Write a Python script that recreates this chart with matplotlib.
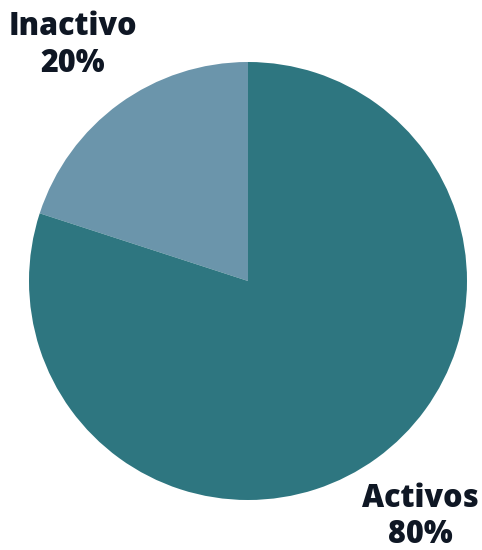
import matplotlib.pyplot as plt

labels = ['Inactivo', 'Activos']
values = [20, 80]
colors = ['#6b95ab', '#2e7680']

fig = plt.figure(figsize=(4.82, 5.5), dpi=100)
ax = fig.add_axes([29/482, 50/550, 438/482, 438/550])

ax.pie(values, colors=colors, startangle=90, counterclock=True, radius=1,
       wedgeprops=dict(linewidth=0))
ax.set_xlim(-1, 1)
ax.set_ylim(-1, 1)
ax.set_aspect('equal')
ax.axis('off')

# label positions in data units (outside the pie)
pos = {'Inactivo': (-0.80, 1.075), 'Activos': (0.785, -1.077)}
for lab, v in zip(labels, values):
    x, y = pos[lab]
    ax.text(x, y, f'{lab}\n{v}%', ha='center', va='center', fontsize=22,
            fontfamily='Open Sans', fontweight='heavy', color='#0f1724',
            linespacing=1.18, clip_on=False)

fig.savefig('out.png', dpi=100)
